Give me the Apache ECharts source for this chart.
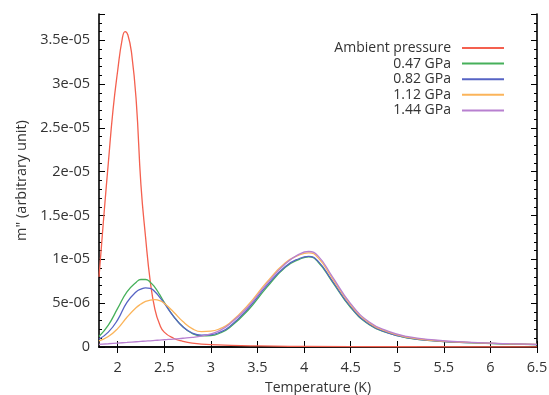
<!DOCTYPE html>
<html>
<head>
<meta charset="utf-8">
<script src="https://cdn.jsdelivr.net/npm/echarts@6/dist/echarts.min.js"></script>
<style>html,body{margin:0;padding:0;background:#fff;}#c{width:549px;height:395px;}</style>
</head>
<body>
<div id="c"></div>
<script>
var seriesNames = ['Ambient pressure', '0.47 GPa', '0.82 GPa', '1.12 GPa', '1.44 GPa'];
var xTicks = [2, 2.5, 3, 3.5, 4, 4.5, 5, 5.5, 6, 6.5];

var tempsAmbient = [1.80, 1.83, 1.86, 1.90, 1.95, 2.00, 2.05, 2.08, 2.11, 2.15, 2.20, 2.25, 2.30, 2.35, 2.40, 2.45, 2.50, 2.60, 2.70, 2.80, 3.00, 3.50, 4.00, 5.00, 6.50];
var ambient = [8e-6, 1.2e-5, 1.6e-5, 2.1e-5, 2.7e-5, 3.15e-5, 3.52e-5, 3.6e-5, 3.56e-5, 3.35e-5, 2.8e-5, 1.85e-5, 1.25e-5, 7.5e-6, 4.3e-6, 2.6e-6, 1.7e-6, 1.0e-6, 6.5e-7, 4.5e-7, 2.8e-7, 1.2e-7, 7e-8, 3e-8, 1e-8];

var temps = [1.8, 1.9, 2.0, 2.1, 2.2, 2.25, 2.3, 2.35, 2.4, 2.45, 2.5, 2.6, 2.7, 2.8, 2.9, 3.0, 3.1, 3.2, 3.4, 3.6, 3.8, 3.95, 4.05, 4.15, 4.3, 4.5, 4.7, 4.9, 5.1, 5.4, 5.8, 6.2, 6.5];
var p047 = [1.2e-6, 2.5e-6, 4.4e-6, 6.3e-6, 7.4e-6, 7.7e-6, 7.7e-6, 7.4e-6, 6.8e-6, 6.0e-6, 5.1e-6, 3.5e-6, 2.3e-6, 1.55e-6, 1.28e-6, 1.3e-6, 1.6e-6, 2.2e-6, 4.2e-6, 6.8e-6, 9.1e-6, 1.0e-5, 1.03e-5, 9.7e-6, 7.5e-6, 4.5e-6, 2.55e-6, 1.6e-6, 1.05e-6, 7e-7, 4.8e-7, 3.4e-7, 2.7e-7];
var p082 = [0.9e-6, 1.7e-6, 3.1e-6, 5.1e-6, 6.3e-6, 6.6e-6, 6.75e-6, 6.7e-6, 6.3e-6, 5.7e-6, 5.0e-6, 3.5e-6, 2.3e-6, 1.6e-6, 1.35e-6, 1.4e-6, 1.7e-6, 2.3e-6, 4.4e-6, 7.0e-6, 9.2e-6, 1.01e-5, 1.035e-5, 9.8e-6, 7.6e-6, 4.6e-6, 2.6e-6, 1.62e-6, 1.07e-6, 7.1e-7, 4.9e-7, 3.5e-7, 2.8e-7];
var p112 = [0.7e-6, 1.2e-6, 2.1e-6, 3.4e-6, 4.5e-6, 4.9e-6, 5.2e-6, 5.35e-6, 5.4e-6, 5.3e-6, 5.0e-6, 4.0e-6, 2.9e-6, 2.1e-6, 1.75e-6, 1.8e-6, 2.1e-6, 2.7e-6, 4.8e-6, 7.4e-6, 9.6e-6, 1.05e-5, 1.075e-5, 1.02e-5, 7.9e-6, 4.8e-6, 2.75e-6, 1.72e-6, 1.13e-6, 7.4e-7, 5.1e-7, 3.6e-7, 2.9e-7];
var p144 = [3e-7, 3.7e-7, 4.5e-7, 5.2e-7, 6e-7, 6.4e-7, 6.8e-7, 7.1e-7, 7.5e-7, 7.9e-7, 8.3e-7, 9e-7, 1.0e-6, 1.1e-6, 1.25e-6, 1.5e-6, 1.9e-6, 2.6e-6, 4.6e-6, 7.2e-6, 9.5e-6, 1.06e-5, 1.09e-5, 1.04e-5, 8.1e-6, 4.95e-6, 2.85e-6, 1.8e-6, 1.2e-6, 8e-7, 5.3e-7, 3.8e-7, 3e-7];

var colors = ['#f4604f', '#46b05a', '#5663c4', '#fbb45a', '#b880d0'];
var FONT = 'Open Sans';

function pairs(xs, ys) { return xs.map(function (x, i) { return [x, ys[i]]; }); }
var dataSets = [pairs(tempsAmbient, ambient), pairs(temps, p047), pairs(temps, p082), pairs(temps, p112), pairs(temps, p144)];

function fmtY(v) {
  if (Math.abs(v) < 1e-12) return '0';
  var s = Number(v.toPrecision(3)).toExponential();
  return s.replace(/e-(\d)$/, 'e-0$1').replace(/e\+(\d)$/, 'e+0$1');
}

var chart = echarts.init(document.getElementById('c'), null, { renderer: 'canvas' });

var legends = seriesNames.map(function (n, i) {
  return {
    data: [n], orient: 'vertical', align: 'right', right: 45, top: 41 + i * 15.6,
    padding: 0, itemWidth: 42, itemHeight: 2, icon: 'rect', selectedMode: false,
    textStyle: { fontFamily: FONT, fontSize: 14, color: '#333', padding: [0, 6, 0, 0] }
  };
});

var axisLineStyle = { color: '#000', width: 1.6 };

chart.setOption({
  animation: false,
  color: colors,
  grid: { left: 99, right: 12, top: 14, bottom: 48, containLabel: false, outerBoundsMode: 'none' },
  legend: legends,
  xAxis: [{
    type: 'value', min: 1.8, max: 6.5, position: 'bottom',
    name: 'Temperature (K)', nameLocation: 'middle', nameGap: 34,
    nameTextStyle: { fontFamily: FONT, fontSize: 14, color: '#333' },
    axisLine: { show: true, lineStyle: axisLineStyle },
    axisTick: { show: true, inside: true, length: 6, customValues: xTicks, lineStyle: { color: '#000' } },
    axisLabel: { customValues: xTicks, margin: 13, fontFamily: FONT, fontSize: 14.5, color: '#333', formatter: function (v) { return String(v); } },
    splitLine: { show: false }
  }, {
    type: 'value', min: 1.8, max: 6.5, position: 'top',
    axisLine: { show: true, lineStyle: axisLineStyle },
    axisTick: { show: true, inside: true, length: 6, customValues: xTicks, lineStyle: { color: '#000' } },
    axisLabel: { show: false },
    splitLine: { show: false }
  }],
  yAxis: [{
    type: 'value', min: 0, max: 3.8e-5, interval: 5e-6, position: 'left',
    name: 'm" (arbitrary unit)', nameLocation: 'middle', nameGap: 64, nameRotate: 90,
    nameTextStyle: { fontFamily: FONT, fontSize: 14.5, color: '#333' },
    axisLine: { show: true, lineStyle: axisLineStyle },
    axisTick: { show: true, inside: true, length: 6, lineStyle: { color: '#000' } },
    minorTick: { show: true, splitNumber: 5, length: 3, lineStyle: { color: '#000' } },
    axisLabel: { margin: 9, fontFamily: FONT, fontSize: 14.5, color: '#333', formatter: fmtY, showMaxLabel: false },
    splitLine: { show: false }, minorSplitLine: { show: false }
  }, {
    type: 'value', min: 0, max: 3.8e-5, interval: 5e-6, position: 'right',
    axisLine: { show: true, lineStyle: axisLineStyle },
    axisTick: { show: true, inside: true, length: 6, lineStyle: { color: '#000' } },
    minorTick: { show: true, splitNumber: 5, length: 3, lineStyle: { color: '#000' } },
    axisLabel: { show: false },
    splitLine: { show: false }, minorSplitLine: { show: false }
  }],
  series: seriesNames.map(function (n, i) {
    return {
      name: n, type: 'line', data: dataSets[i], xAxisIndex: 0, yAxisIndex: 0,
      symbol: 'none', smooth: true,
      lineStyle: { width: 1.3, color: colors[i] }, itemStyle: { color: colors[i] },
      clip: true
    };
  })
});
</script>
</body>
</html>
